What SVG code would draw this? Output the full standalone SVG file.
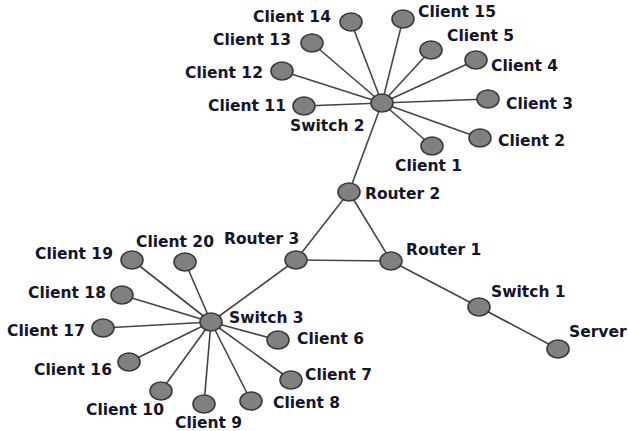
<svg xmlns="http://www.w3.org/2000/svg" width="628" height="431" viewBox="0 0 628 431">
<style>
.n ellipse{fill:#808080;stroke:#3a3a3a;stroke-width:1.6}
.n text{font-family:"DejaVu Sans",sans-serif;font-weight:bold;font-size:15.5px;fill:#14142a}
#edges line{stroke:#444;stroke-width:1.6}
</style>
<rect width="628" height="431" fill="#fff"/>
<g id="edges">
<line x1="382" y1="103" x2="351" y2="22"/>
<line x1="382" y1="103" x2="403" y2="19"/>
<line x1="382" y1="103" x2="312" y2="43"/>
<line x1="382" y1="103" x2="282" y2="71"/>
<line x1="382" y1="103" x2="304" y2="106"/>
<line x1="382" y1="103" x2="431" y2="50"/>
<line x1="382" y1="103" x2="476" y2="60"/>
<line x1="382" y1="103" x2="488" y2="99"/>
<line x1="382" y1="103" x2="480" y2="138"/>
<line x1="382" y1="103" x2="432" y2="146"/>
<line x1="382" y1="103" x2="349" y2="192"/>
<line x1="349" y1="192" x2="296" y2="260"/>
<line x1="349" y1="192" x2="391" y2="261"/>
<line x1="296" y1="260" x2="391" y2="261"/>
<line x1="391" y1="261" x2="479" y2="307"/>
<line x1="479" y1="307" x2="558" y2="349"/>
<line x1="296" y1="260" x2="211" y2="322"/>
<line x1="211" y1="322" x2="132" y2="260"/>
<line x1="211" y1="322" x2="185" y2="262"/>
<line x1="211" y1="322" x2="122" y2="295"/>
<line x1="211" y1="322" x2="103" y2="328"/>
<line x1="211" y1="322" x2="129" y2="362"/>
<line x1="211" y1="322" x2="161" y2="391"/>
<line x1="211" y1="322" x2="204" y2="404"/>
<line x1="211" y1="322" x2="251" y2="401"/>
<line x1="211" y1="322" x2="291" y2="380"/>
<line x1="211" y1="322" x2="278" y2="340"/>
</g>
<g id="switch2" class="n"><ellipse cx="382" cy="103" rx="11" ry="9"/><text x="290" y="131">Switch 2</text></g>
<g id="client14" class="n"><ellipse cx="351" cy="22" rx="11" ry="9"/><text x="253" y="22">Client 14</text></g>
<g id="client15" class="n"><ellipse cx="403" cy="19" rx="11" ry="9"/><text x="418" y="17">Client 15</text></g>
<g id="client13" class="n"><ellipse cx="312" cy="43" rx="11" ry="9"/><text x="213" y="45">Client 13</text></g>
<g id="client12" class="n"><ellipse cx="282" cy="71" rx="11" ry="9"/><text x="185" y="78">Client 12</text></g>
<g id="client11" class="n"><ellipse cx="304" cy="106" rx="11" ry="9"/><text x="208" y="111">Client 11</text></g>
<g id="client5" class="n"><ellipse cx="431" cy="50" rx="11" ry="9"/><text x="447" y="41">Client 5</text></g>
<g id="client4" class="n"><ellipse cx="476" cy="60" rx="11" ry="9"/><text x="491" y="71">Client 4</text></g>
<g id="client3" class="n"><ellipse cx="488" cy="99" rx="11" ry="9"/><text x="506" y="109">Client 3</text></g>
<g id="client2" class="n"><ellipse cx="480" cy="138" rx="11" ry="9"/><text x="498" y="146">Client 2</text></g>
<g id="client1" class="n"><ellipse cx="432" cy="146" rx="11" ry="9"/><text x="395" y="171">Client 1</text></g>
<g id="router2" class="n"><ellipse cx="349" cy="192" rx="11" ry="9"/><text x="365" y="199">Router 2</text></g>
<g id="router3" class="n"><ellipse cx="296" cy="260" rx="11" ry="9"/><text x="224" y="244">Router 3</text></g>
<g id="router1" class="n"><ellipse cx="391" cy="261" rx="11" ry="9"/><text x="406" y="255">Router 1</text></g>
<g id="switch1" class="n"><ellipse cx="479" cy="307" rx="11" ry="9"/><text x="491" y="297">Switch 1</text></g>
<g id="server" class="n"><ellipse cx="558" cy="349" rx="11" ry="9"/><text x="569" y="337">Server</text></g>
<g id="switch3" class="n"><ellipse cx="211" cy="322" rx="11" ry="9"/><text x="229" y="323">Switch 3</text></g>
<g id="client19" class="n"><ellipse cx="132" cy="260" rx="11" ry="9"/><text x="35" y="259">Client 19</text></g>
<g id="client20" class="n"><ellipse cx="185" cy="262" rx="11" ry="9"/><text x="136" y="247">Client 20</text></g>
<g id="client18" class="n"><ellipse cx="122" cy="295" rx="11" ry="9"/><text x="28" y="298">Client 18</text></g>
<g id="client17" class="n"><ellipse cx="103" cy="328" rx="11" ry="9"/><text x="7" y="336">Client 17</text></g>
<g id="client16" class="n"><ellipse cx="129" cy="362" rx="11" ry="9"/><text x="34" y="375">Client 16</text></g>
<g id="client10" class="n"><ellipse cx="161" cy="391" rx="11" ry="9"/><text x="86" y="415">Client 10</text></g>
<g id="client9" class="n"><ellipse cx="204" cy="404" rx="11" ry="9"/><text x="175" y="428">Client 9</text></g>
<g id="client8" class="n"><ellipse cx="251" cy="401" rx="11" ry="9"/><text x="273" y="408">Client 8</text></g>
<g id="client7" class="n"><ellipse cx="291" cy="380" rx="11" ry="9"/><text x="305" y="380">Client 7</text></g>
<g id="client6" class="n"><ellipse cx="278" cy="340" rx="11" ry="9"/><text x="297" y="344">Client 6</text></g>
</svg>
